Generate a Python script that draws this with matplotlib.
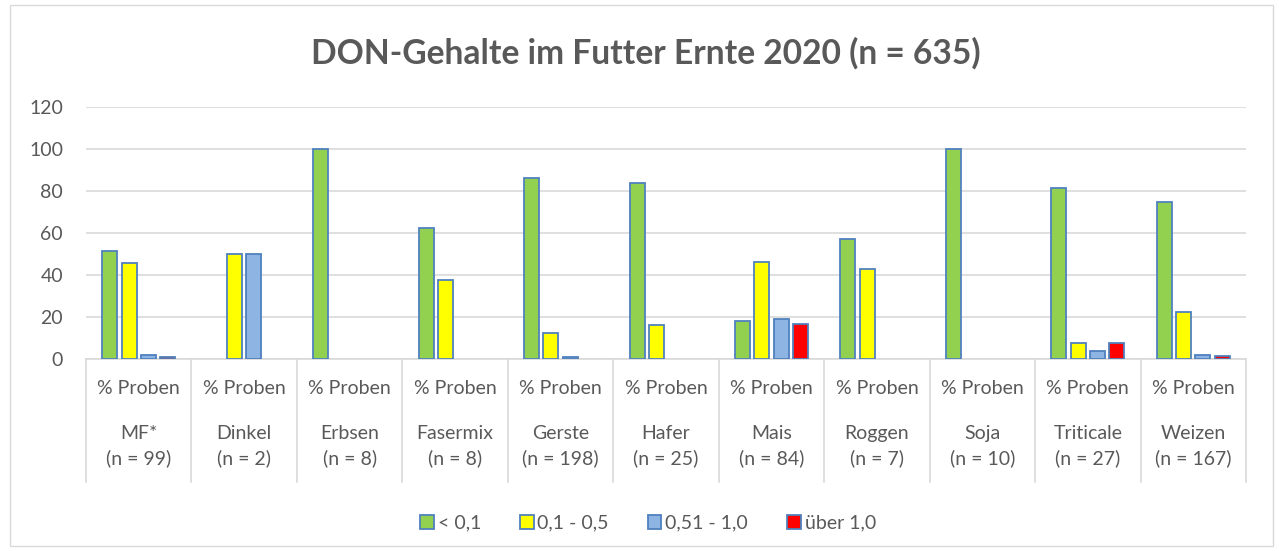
import matplotlib
matplotlib.use("Agg")
import matplotlib.pyplot as plt
from matplotlib.patches import Patch, Rectangle
import numpy as np

plt.rcParams['font.family'] = ['Lato', 'DejaVu Sans']

categories = ["MF*", "Dinkel", "Erbsen", "Fasermix", "Gerste", "Hafer", "Mais",
              "Roggen", "Soja", "Triticale", "Weizen"]
n_labels = ["(n = 99)", "(n = 2)", "(n = 8)", "(n = 8)", "(n = 198)", "(n = 25)",
            "(n = 84)", "(n = 7)", "(n = 10)", "(n = 27)", "(n = 167)"]
sub_label = "% Proben"
series_names = ["< 0,1", "0,1 - 0,5", "0,51 - 1,0", "über 1,0"]
lt_01 = [51.5, 0, 100, 62.5, 86.4, 84.0, 17.9, 57.1, 100, 81.5, 74.9]
r01_05 = [45.5, 50, 0, 37.5, 12.6, 16.0, 46.4, 42.9, 0, 7.4, 22.2]
r051_10 = [2.0, 50, 0, 0, 1.0, 0, 19.0, 0, 0, 3.7, 1.8]
gt_10 = [1.0, 0, 0, 0, 0, 0, 16.7, 0, 0, 7.4, 1.2]
series = [lt_01, r01_05, r051_10, gt_10]
colors = ["#92D050", "#FFFF00", "#8EB4E3", "#FF0000"]
edge = "#4F81BD"
title = "DON-Gehalte im Futter Ernte 2020 (n = 635)"
yticks = [0, 20, 40, 60, 80, 100, 120]
txt = "#595959"

W, H = 1279, 551
fig = plt.figure(figsize=(W / 100, H / 100), dpi=100)
x0, x1, y0, y1 = 86, 1246, 359, 107
ax = fig.add_axes([x0 / W, 1 - y0 / H, (x1 - x0) / W, (y0 - y1) / H])

n = len(categories)
x = np.arange(n)
step = 0.183
bw = 0.142
for i, (vals, c) in enumerate(zip(series, colors)):
    vals = np.array(vals, dtype=float)
    mask = vals > 0
    ax.bar(x[mask] + (i - 1.5) * step, vals[mask], width=bw, color=c,
           edgecolor=edge, linewidth=1.3, zorder=3)

ax.set_xlim(-0.5, n - 0.5)
ax.set_ylim(0, 120)
ax.set_yticks(yticks)
ax.set_yticklabels([str(v) for v in yticks], fontsize=14, color=txt)
ax.yaxis.grid(True, color="#D9D9D9", linewidth=1.2, zorder=0)
ax.set_axisbelow(True)
for s in ax.spines.values():
    s.set_visible(False)
ax.tick_params(axis='y', length=0, pad=16.5)
ax.set_xticks([])

trans = ax.get_xaxis_transform()
def fy(py):
    return (y0 - py) / (y0 - y1)

ax.plot([-0.5, n - 0.5], [0, 0], color="#D9D9D9", linewidth=1.2, zorder=2, clip_on=False)
for k in range(n + 1):
    ax.plot([k - 0.5, k - 0.5], [fy(359), fy(482)], transform=trans, color="#D9D9D9",
            linewidth=1.2, clip_on=False)
for k in range(n):
    ax.text(k, fy(389), sub_label, transform=trans, ha="center", va="center",
            fontsize=14, color=txt)
    ax.text(k, fy(434), categories[k], transform=trans, ha="center", va="center",
            fontsize=14, color=txt)
    ax.text(k, fy(458), n_labels[k], transform=trans, ha="center", va="center",
            fontsize=14, color=txt)

fig.text(646 / W, 1 - 53 / H, title, ha="center", va="center", fontsize=24.2,
         fontweight="bold", color=txt)

handles = [Patch(facecolor=c, edgecolor=edge, linewidth=1.3) for c in colors]
leg = fig.legend(handles, series_names, loc="center", bbox_to_anchor=(648 / W, 1 - 523 / H),
                 ncol=4, frameon=False, fontsize=14, handlelength=0.7, handleheight=0.7,
                 handletextpad=0.2, columnspacing=2.0)
for t in leg.get_texts():
    t.set_color(txt)

fig.patches.append(Rectangle((10 / W, 1 - 546 / H), 1263 / W, 541 / H, transform=fig.transFigure,
                             fill=False, edgecolor="#D9D9D9", linewidth=1.0))

fig.savefig("out.png", dpi=100)
